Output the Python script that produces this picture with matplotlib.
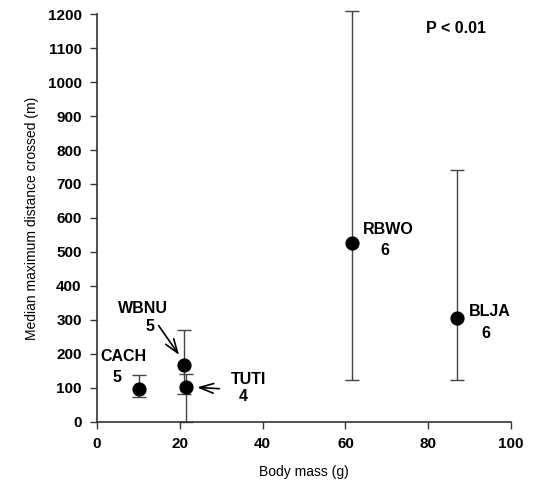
import matplotlib
matplotlib.use("Agg")
import matplotlib.pyplot as plt

plt.rcParams['font.family'] = ['Liberation Sans', 'DejaVu Sans']

# species data
species = ['CACH', 'WBNU', 'TUTI', 'RBWO', 'BLJA']
n_birds = [5, 5, 4, 6, 6]
body_mass = [10.1, 21.1, 21.6, 61.5, 86.9]
median_dist = [96, 167, 102, 527, 305]
err_low = [73, 81, 0, 123, 123]
err_high = [139, 270, 141, 1209, 741]

fig = plt.figure(figsize=(5.33, 4.86), dpi=100)
ax = fig.add_axes([0.182, 0.132, 0.777, 0.839])

lower = [m - lo for m, lo in zip(median_dist, err_low)]
upper = [hi - m for m, hi in zip(median_dist, err_high)]
eb = ax.errorbar(body_mass, median_dist, yerr=[lower, upper], fmt='none',
                 ecolor='#444444', elinewidth=1.0, capsize=5, capthick=1.0, zorder=2)
for art in eb.lines[1] + tuple(eb.lines[2]):
    art.set_clip_on(False)
ax.scatter(body_mass, median_dist, s=85, color='black', zorder=3)

ax.set_xlim(0, 100)
ax.set_ylim(0, 1200)
ax.set_xticks(range(0, 101, 20))
ax.set_yticks(range(0, 1201, 100))
ax.spines['top'].set_visible(False)
ax.spines['right'].set_visible(False)
for s in ['left', 'bottom']:
    ax.spines[s].set_color('#333333')
    ax.spines[s].set_linewidth(1.2)
ax.tick_params(direction='out', length=5, width=1, colors='#333333',
               labelcolor='black', labelsize=11, pad=6)
for lab in ax.get_xticklabels() + ax.get_yticklabels():
    lab.set_fontweight('bold')

ax.set_xlabel('Body mass (g)', fontsize=10, labelpad=10)
ax.set_ylabel('Median maximum distance crossed (m)', fontsize=10, labelpad=6)

bold = dict(fontsize=11.5, fontweight='bold', ha='center', va='center')
arrow = dict(arrowstyle='->,head_length=1.0,head_width=0.35', color='black', lw=1.2)
# CACH
ax.text(6.3, 192, species[0], **bold)
ax.text(4.8, 130, str(n_birds[0]), **bold)
# WBNU
ax.text(11.2, 335, species[1], **bold)
ax.text(12.7, 282, str(n_birds[1]), **bold)
ax.annotate('', xy=(20.2, 190), xytext=(14.5, 290), arrowprops=arrow)
# TUTI
ax.text(36.5, 124, species[2], **bold)
ax.text(35.3, 74, str(n_birds[2]), **bold)
ax.annotate('', xy=(23.5, 102), xytext=(30.2, 97), arrowprops=arrow)
# RBWO
ax.text(70.3, 566, species[3], **bold)
ax.text(69.6, 504, str(n_birds[3]), **bold)
# BLJA
ax.text(94.8, 325, species[4], **bold)
ax.text(93.9, 260, str(n_birds[4]), **bold)

ax.text(86.6, 1158, 'P < 0.01', **bold)

fig.savefig('out.png', dpi=100)
